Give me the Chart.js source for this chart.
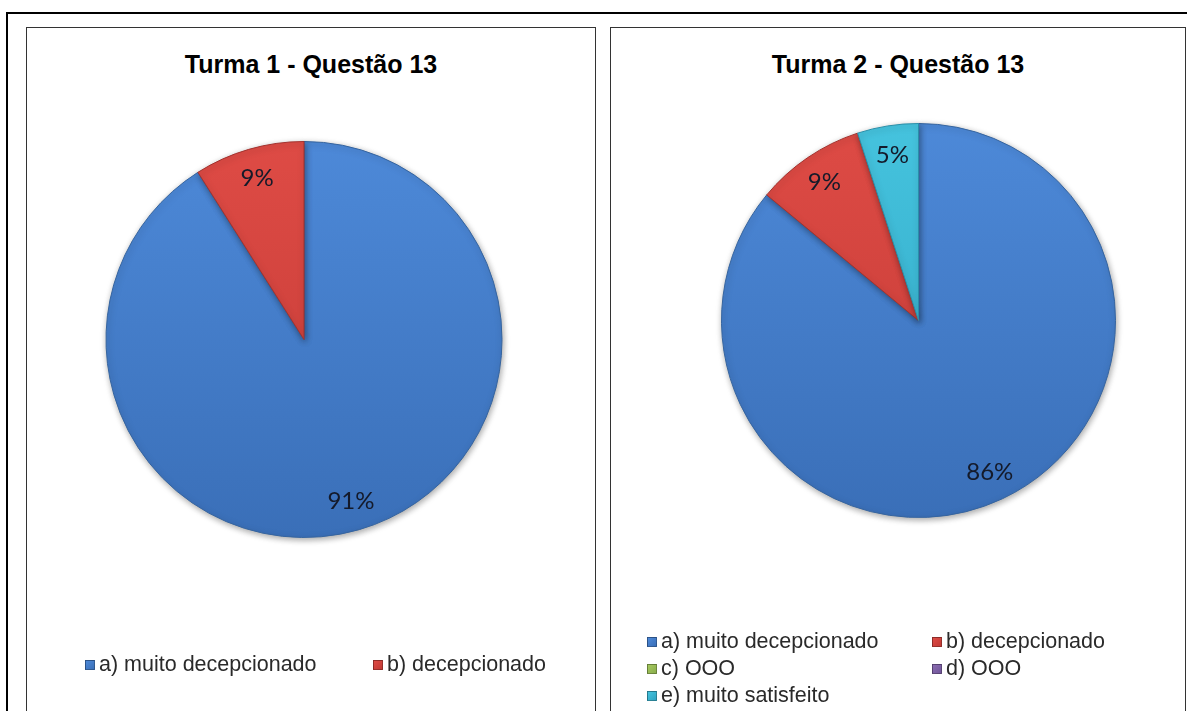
<!DOCTYPE html>
<html>
<head>
<meta charset="utf-8">
<script src="https://cdn.jsdelivr.net/npm/chart.js@4"></script>
<style>
  html, body { margin: 0; padding: 0; background: #fff; }
  body { width: 1187px; height: 711px; position: relative; overflow: hidden; font-family: "Liberation Sans", Arial, sans-serif; }
  .frame { position: absolute; left: 6px; top: 12px; width: 1200px; height: 720px; border: 2px solid #000; box-sizing: border-box; }
  .panel { position: absolute; top: 27px; height: 700px; border: 1px solid #333; box-sizing: border-box; background: #fff; }
  #panel1 { left: 26px; width: 570px; }
  #panel2 { left: 610px; width: 576px; }
  .panel canvas { position: absolute; left: 0; top: 0; }
  .title { position: absolute; left: 0; right: 0; top: 21px; text-align: center; font-weight: bold; font-size: 25px; line-height: 30px; color: #000; }
  .legend { position: absolute; display: grid; font-size: 21.5px; line-height: 27px; color: #2a2a2a; }
  #legend1 { left: 58px; top: 623px; grid-template-columns: 288px 200px; }
  #legend2 { left: 36px; top: 600px; grid-template-columns: 285px 200px; }
  .item { display: flex; align-items: center; white-space: nowrap; }
  .box { width: 10px; height: 10px; margin-right: 4px; box-sizing: border-box; border: 1px solid rgba(0,0,0,0.3); }
</style>
</head>
<body>
<div class="frame"></div>
<div class="panel" id="panel1">
  <div class="title" id="title1"></div>
  <canvas id="chart1" width="568" height="683"></canvas>
  <div class="legend" id="legend1"></div>
</div>
<div class="panel" id="panel2">
  <div class="title" id="title2"></div>
  <canvas id="chart2" width="574" height="683"></canvas>
  <div class="legend" id="legend2"></div>
</div>
<script>
// data
const turma1Title = 'Turma 1 - Questão 13';
const turma1Labels = ['a) muito decepcionado', 'b) decepcionado'];
const turma1Values = [91, 9];

const turma2Title = 'Turma 2 - Questão 13';
const turma2Labels = ['a) muito decepcionado', 'b) decepcionado', 'c) OOO', 'd) OOO', 'e) muito satisfeito'];
const turma2Values = [86, 9, 0, 0, 5];

// excel 2007 style palette (top / bottom of the gradient, edge)
const topColors = ['#4d89d8', '#de4b45', '#a5c85f', '#8a6cb0', '#45c3de'];
const bottomColors = ['#3a6fb8', '#c23a35', '#8aae4c', '#71559a', '#2fa4c2'];
const edgeColors = ['#35649f', '#a3322e', '#7a9a42', '#634b88', '#2a8fa9'];

const gradientFill = (context) => {
  const chart = context.chart;
  const i = context.dataIndex;
  const area = chart.chartArea;
  if (!area) return topColors[i];
  const g = chart.ctx.createLinearGradient(0, area.top, 0, area.bottom);
  g.addColorStop(0, topColors[i]);
  g.addColorStop(1, bottomColors[i]);
  return g;
};

// soft drop shadow under the pie
const shadowPlugin = {
  id: 'pieShadow',
  beforeDatasetDraw(chart) {
    const ctx = chart.ctx;
    ctx.save();
    ctx.shadowColor = 'rgba(0,0,0,0.35)';
    ctx.shadowBlur = 6;
    ctx.shadowOffsetX = 1;
    ctx.shadowOffsetY = 2;
  },
  afterDatasetDraw(chart) {
    chart.ctx.restore();
  }
};

// percentage labels inside the slices
const percentLabels = {
  id: 'percentLabels',
  afterDraw(chart, args, opts) {
    const ctx = chart.ctx;
    const meta = chart.getDatasetMeta(0);
    const values = chart.data.datasets[0].data;
    ctx.save();
    ctx.font = '24px Lato, "Open Sans", sans-serif';
    ctx.fillStyle = '#141a2a';
    ctx.textAlign = 'center';
    ctx.textBaseline = 'middle';
    meta.data.forEach((arc, i) => {
      if (!values[i]) return;
      const p = arc.getProps(['x', 'y', 'startAngle', 'endAngle', 'outerRadius'], true);
      const mid = (p.startAngle + p.endAngle) / 2;
      const r = p.outerRadius * (opts.radius || 0.85);
      ctx.fillText(values[i] + '%', p.x + Math.cos(mid) * r, p.y + Math.sin(mid) * r);
    });
    ctx.restore();
  }
};

function makePie(canvasId, labels, values, padding) {
  return new Chart(document.getElementById(canvasId), {
    type: 'pie',
    data: {
      labels: labels,
      datasets: [{
        data: values,
        backgroundColor: gradientFill,
        borderColor: edgeColors,
        borderWidth: 1
      }]
    },
    options: {
      responsive: false,
      animation: false,
      devicePixelRatio: 1,
      layout: { padding: padding },
      plugins: {
        legend: { display: false },
        tooltip: { enabled: false },
        percentLabels: { radius: 0.85 }
      }
    },
    plugins: [shadowPlugin, percentLabels]
  });
}

function makeLegend(id, labels) {
  const el = document.getElementById(id);
  labels.forEach((label, i) => {
    const item = document.createElement('div');
    item.className = 'item';
    const box = document.createElement('span');
    box.className = 'box';
    box.style.background = 'linear-gradient(135deg, ' + topColors[i] + ', ' + bottomColors[i] + ')';
    const txt = document.createElement('span');
    txt.textContent = label;
    item.appendChild(box);
    item.appendChild(txt);
    el.appendChild(item);
  });
}

document.getElementById('title1').textContent = turma1Title;
document.getElementById('title2').textContent = turma2Title;

makePie('chart1', turma1Labels, turma1Values, { left: 78, right: 92, top: 113, bottom: 173 });
makePie('chart2', turma2Labels, turma2Values, { left: 110, right: 69, top: 95, bottom: 193 });

makeLegend('legend1', turma1Labels);
makeLegend('legend2', turma2Labels);
</script>
</body>
</html>
